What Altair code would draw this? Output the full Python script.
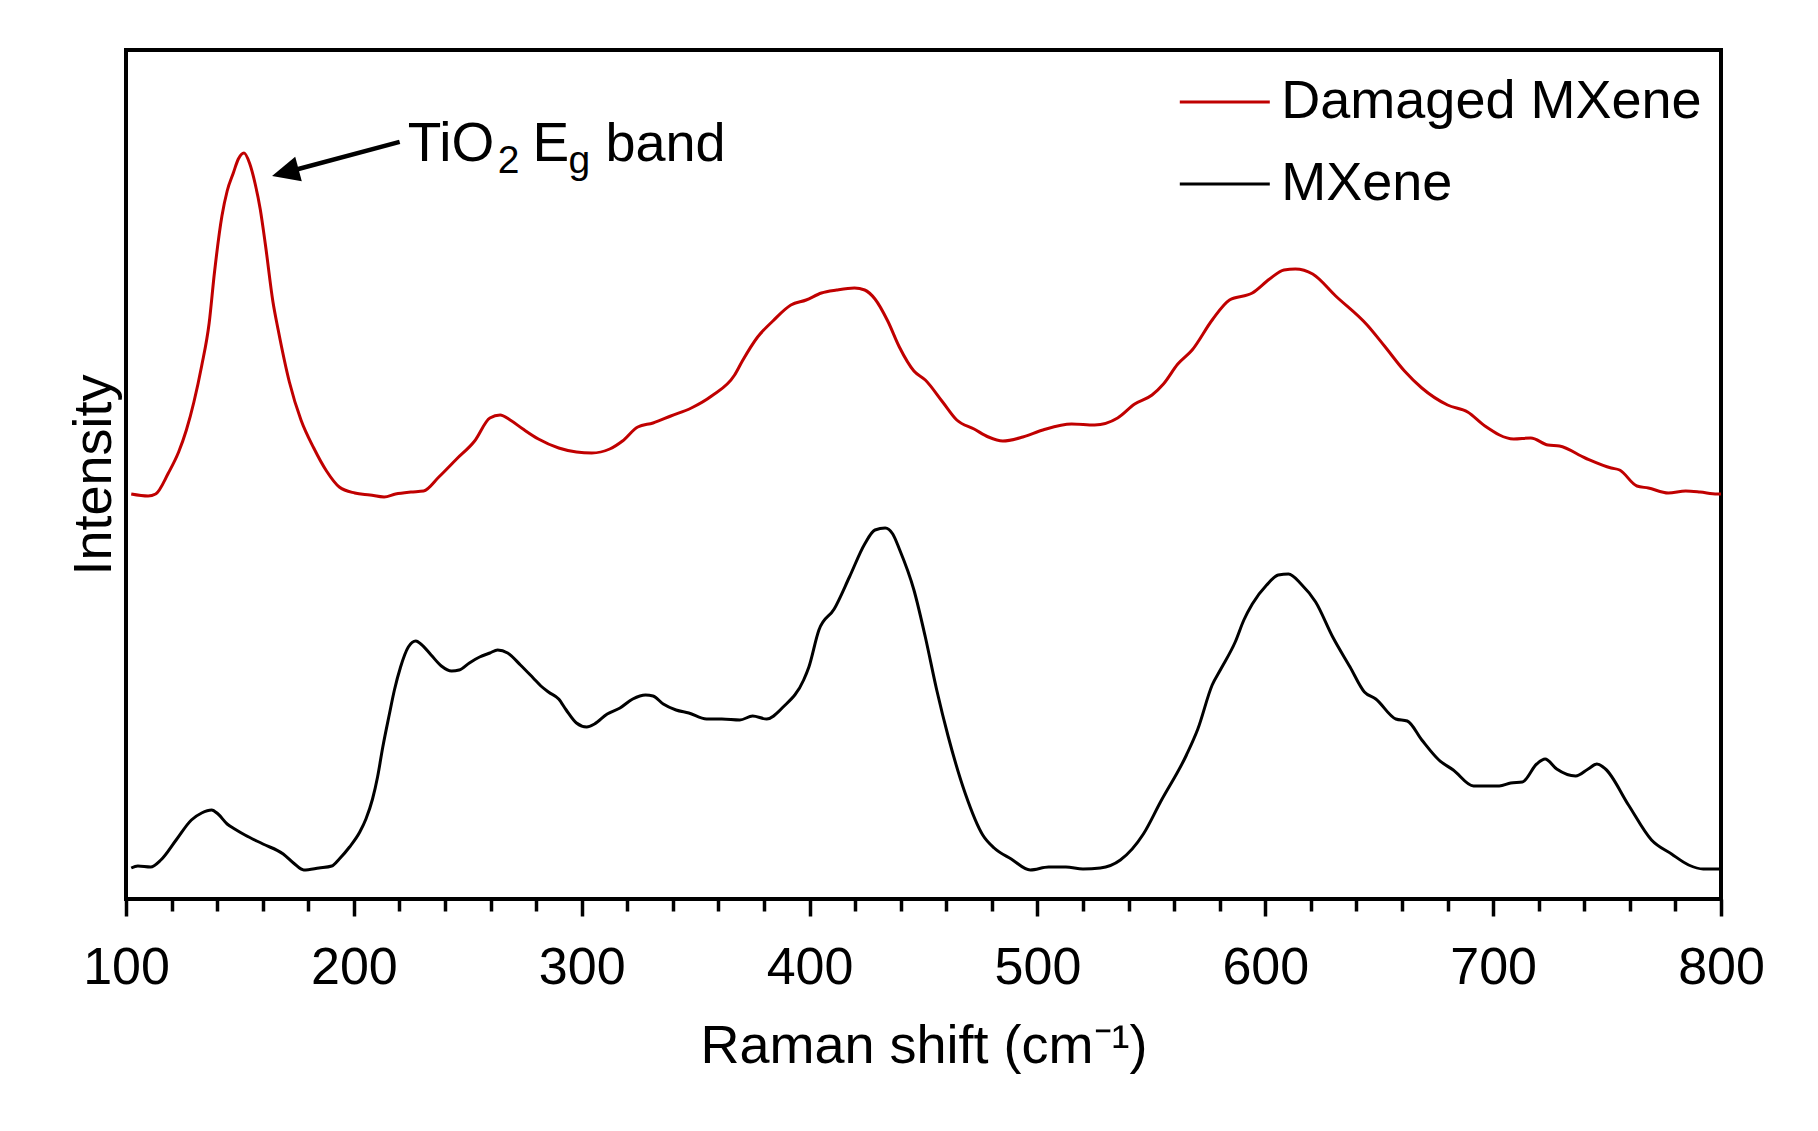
import altair as alt
import pandas as pd

FONT = "Liberation Sans"

# ---- data (Raman shift in cm-1, intensity in arbitrary units) ----
damaged_shift = [102.3, 109.7, 113.0, 118.6, 123.1, 126.5, 129.8, 133.2, 136.5, 138.8, 142.1, 144.4,
                 147.1, 149.3, 151.8, 154.2, 156.7, 158.9, 161.2, 164.5, 166.8, 171.7, 176.8, 182.4,
                 188.0, 193.6, 200.4, 207.1, 213.3, 218.3, 225.0, 230.6, 237.3, 245.1, 253.0, 259.7,
                 264.2, 268.6, 274.2, 281.0, 289.9, 297.7, 304.4, 312.3, 317.9, 324.6, 331.3, 339.1,
                 348.1, 357.0, 367.1, 370.5, 377.2, 383.9, 391.8, 398.5, 405.2, 411.9, 419.7, 424.2,
                 428.7, 434.3, 439.4, 445.8, 450.8, 458.4, 464.6, 472.2, 478.5, 484.8, 493.6, 502.4,
                 515.0, 525.1, 535.2, 542.7, 550.3, 555.3, 561.6, 567.9, 576.7, 584.3, 594.3, 601.9,
                 608.2, 613.2, 620.8, 630.9, 644.7, 652.3, 661.1, 668.7, 680.0, 688.8, 696.4, 709.0,
                 716.5, 724.1, 729.1, 740.4, 751.8, 755.5, 763.1, 768.1, 776.9, 784.5, 790.8, 798.3, 800.0]
damaged_int = [405, 403, 405, 426, 447, 469, 497, 533, 576, 626, 683, 708,
               726, 740, 746, 736, 715, 690, 654, 597, 569, 517, 479, 451,
               428, 412, 406, 404, 402, 405, 407, 408, 422, 440, 458, 481,
               484, 479, 470, 460, 451, 447, 446, 450, 458, 472, 476, 483,
               491, 503, 524, 538, 562, 578, 594, 599, 606, 609, 611, 609,
               600, 578, 552, 528, 519, 497, 479, 470, 462, 458, 462, 469,
               475, 474, 481, 495, 504, 515, 535, 549, 579, 599, 606, 620,
               629, 630, 625, 603, 574, 553, 528, 511, 494, 487, 473, 460,
               461, 454, 453, 441, 431, 429, 413, 411, 406, 408, 407, 405, 405]

mxene_shift = [102.3, 105.2, 110.8, 115.3, 122.0, 128.7, 133.2, 137.6, 140.4, 144.4, 147.7, 152.2,
               160.1, 169.0, 173.5, 178.0, 184.7, 190.3, 193.6, 198.1, 202.6, 205.3, 208.2, 210.4,
               212.7, 215.6, 217.8, 220.5, 223.9, 227.2, 229.4, 233.9, 238.4, 242.9, 246.2, 250.7,
               255.2, 259.7, 263.1, 267.5, 273.1, 278.7, 282.1, 285.4, 289.9, 293.2, 297.7, 302.2,
               305.6, 311.2, 316.8, 322.4, 328.0, 331.3, 335.8, 341.4, 347.0, 354.8, 361.5, 369.4,
               375.0, 381.2, 388.4, 397.4, 399.7, 404.1, 410.8, 417.5, 424.2, 428.7, 433.2, 436.5,
               439.4, 445.8, 450.8, 455.8, 460.9, 468.4, 476.0, 481.0, 488.5, 496.9, 504.9, 512.5,
               520.0, 527.6, 536.4, 546.5, 554.0, 565.4, 570.4, 576.7, 580.5, 586.8, 590.6, 594.3,
               600.6, 605.7, 610.2, 615.7, 622.1, 629.6, 637.2, 643.5, 648.5, 657.3, 662.3, 668.7,
               676.2, 682.5, 691.4, 702.7, 707.7, 712.8, 719.1, 722.8, 727.9, 736.2, 741.7, 745.5,
               749.3, 759.4, 769.5, 778.3, 785.8, 792.2, 798.4, 800.0]
mxene_int = [31, 33, 32, 39, 59, 79, 86, 89, 85, 75, 70, 64,
             55, 45, 36, 29, 31, 33, 40, 52, 67, 80, 100, 122,
             152, 185, 209, 232, 252, 258, 255, 244, 233, 228, 229, 236,
             242, 246, 249, 246, 234, 221, 213, 207, 200, 189, 176, 172,
             175, 185, 191, 200, 204, 203, 195, 189, 186, 180, 180, 179,
             183, 180, 192, 219, 232, 269, 290, 322, 355, 369, 371, 365,
             350, 309, 262, 209, 162, 105, 64, 51, 40, 29, 32, 32,
             30, 31, 39, 65, 97, 144, 170, 214, 230, 257, 279, 295,
             314, 324, 325, 315, 297, 262, 232, 207, 200, 180, 178, 159,
             139, 129, 113, 113, 116, 117, 135, 140, 130, 123, 130, 135,
             130, 94, 59, 45, 34, 30, 30, 30]

series_names = ["Damaged MXene", "MXene"]
series_colors = ["#C00000", "#000000"]

major_ticks = [100, 200, 300, 400, 500, 600, 700, 800]
minor_ticks = [120, 140, 160, 180, 220, 240, 260, 280, 320, 340, 360, 380,
               420, 440, 460, 480, 520, 540, 560, 580, 620, 640, 660, 680,
               720, 740, 760, 780]

# annotation "TiO2 Eg band" split into pieces (subscripts smaller)
ann_text = ["TiO", "2", "E", "g", "band"]
ann_shift = [223.6, 263.2, 278.4, 294.2, 310.4]
ann_int = [738, 726, 738, 726, 738]
ann_size = [55, 39, 55, 39, 54]

arrow_start = (220.1, 757.2)
arrow_tip_center = (169.9, 726.5)

# ---- tables ----
df = pd.concat([
    pd.DataFrame({"shift": damaged_shift, "intensity": damaged_int, "series": series_names[0]}),
    pd.DataFrame({"shift": mxene_shift, "intensity": mxene_int, "series": series_names[1]}),
], ignore_index=True)

ann_df = pd.DataFrame({"text": ann_text, "x": ann_shift, "y": ann_int, "fs": ann_size})
arrow_df = pd.DataFrame({"x": [arrow_start[0]], "y": [arrow_start[1]],
                         "x2": [arrow_tip_center[0]], "y2": [arrow_tip_center[1]]})
head_df = pd.DataFrame({"x": [arrow_tip_center[0]], "y": [arrow_tip_center[1]]})

x_scale = alt.Scale(domain=[100, 800], nice=False, zero=False)
y_scale = alt.Scale(domain=[0, 849], nice=False, zero=False)

major_axis = alt.Axis(
    orient="bottom",
    values=major_ticks, format="d", title="Raman shift (cm⁻¹)",
    tickSize=17, tickWidth=3.5, tickColor="black",
    labelFont=FONT, labelFontSize=52, labelColor="black", labelPadding=26,
    labelFlush=False, labelOverlap=False,
    domain=False, grid=False,
    titleFont=FONT, titleFontSize=54, titleFontWeight="normal", titleColor="black",
    titlePadding=26,
)
minor_axis = alt.Axis(
    orient="bottom",
    values=minor_ticks, labels=False, title=None,
    tickSize=12, tickWidth=3.5, tickColor="black",
    domain=False, grid=False,
)
y_axis = alt.Axis(
    orient="left",
    title="Intensity", labels=False, ticks=False, domain=False, grid=False,
    titleFont=FONT, titleFontSize=54, titleFontWeight="normal", titleColor="black",
    titlePadding=5,
)

lines = alt.Chart(df).mark_line(strokeWidth=3, interpolate="monotone").encode(
    x=alt.X("shift:Q", scale=x_scale, axis=major_axis),
    y=alt.Y("intensity:Q", scale=y_scale, axis=y_axis),
    color=alt.Color(
        "series:N",
        scale=alt.Scale(domain=series_names, range=series_colors),
        legend=alt.Legend(
            title=None, orient="none", legendX=1052.3, legendY=5.5,
            symbolType="stroke", symbolSize=8100, symbolStrokeWidth=3,
            labelFont=FONT, labelFontSize=54, labelColor="black", labelOffset=10,
            rowPadding=8, padding=0, labelLimit=1000,
        ),
    ),
)

ann = alt.Chart(ann_df).mark_text(align="left", baseline="alphabetic", font=FONT, color="black").encode(
    x=alt.X("x:Q", scale=x_scale, axis=minor_axis),
    y=alt.Y("y:Q", scale=y_scale, axis=None),
    text="text:N",
    size=alt.Size("fs:Q", scale=None, legend=None),
)

arrow = alt.Chart(arrow_df).mark_rule(strokeWidth=4.5, color="black").encode(
    x=alt.X("x:Q", scale=x_scale, axis=None),
    x2="x2:Q",
    y=alt.Y("y:Q", scale=y_scale, axis=None),
    y2="y2:Q",
)

head = alt.Chart(head_df).mark_point(
    shape="M -1 0 L 1 -0.93 L 1 0.93 Z", filled=True, color="black",
    size=751, angle=345, opacity=1, strokeWidth=0,
).encode(
    x=alt.X("x:Q", scale=x_scale, axis=None),
    y=alt.Y("y:Q", scale=y_scale, axis=None),
)

chart = alt.layer(lines, ann, arrow, head).resolve_axis(x="independent", y="independent").properties(
    width=1595, height=849,
    autosize=alt.AutoSizeParams(type="none"),
    padding={"left": 118, "top": 42, "right": 88, "bottom": 220},
    background="white",
).configure_view(stroke="black", strokeWidth=4)

chart.save("out.html", embed_options={"renderer": "svg", "actions": False})
